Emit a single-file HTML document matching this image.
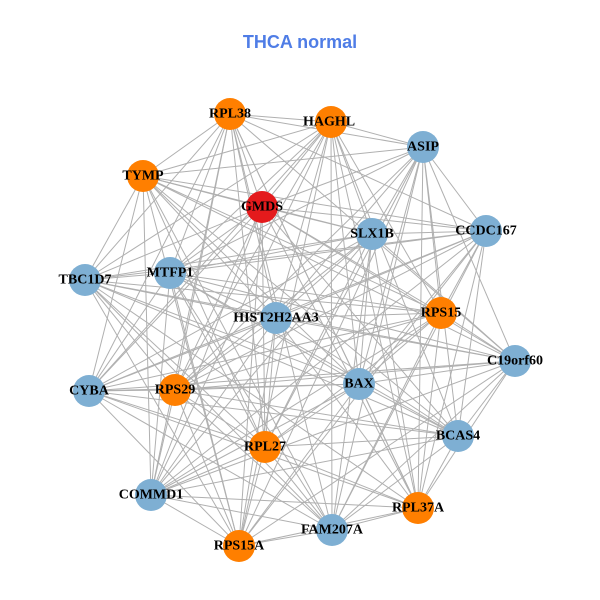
<!DOCTYPE html>
<html><head><meta charset="utf-8"><style>
html,body{margin:0;padding:0;background:#fff;width:600px;height:600px;overflow:hidden}
svg text.l{font-family:"Liberation Serif",serif;font-weight:bold;font-size:14px;fill:#000;text-anchor:middle;dominant-baseline:central}
</style></head><body>
<svg id="s" width="600" height="600" xmlns="http://www.w3.org/2000/svg">
<text x="300" y="48" text-anchor="middle" font-family="Liberation Sans,sans-serif" font-weight="bold" font-size="18" fill="#4f7de6">THCA normal</text>
<g id="e" stroke="#b0b0b0" stroke-width="1"></g>
<g id="n"></g>
<g>
<text class="l" x="230" y="114">RPL38</text>
<text class="l" x="329" y="122">HAGHL</text>
<text class="l" x="423" y="147">ASIP</text>
<text class="l" x="143" y="176">TYMP</text>
<text class="l" x="262" y="207">GMDS</text>
<text class="l" x="372" y="234">SLX1B</text>
<text class="l" x="486" y="231">CCDC167</text>
<text class="l" x="85" y="280">TBC1D7</text>
<text class="l" x="170" y="273">MTFP1</text>
<text class="l" x="276" y="318">HIST2H2AA3</text>
<text class="l" x="441" y="313">RPS15</text>
<text class="l" x="515" y="361">C19orf60</text>
<text class="l" x="89" y="391">CYBA</text>
<text class="l" x="175" y="390">RPS29</text>
<text class="l" x="359" y="384">BAX</text>
<text class="l" x="458" y="436">BCAS4</text>
<text class="l" x="265" y="447">RPL27</text>
<text class="l" x="151" y="495">COMMD1</text>
<text class="l" x="418" y="508">RPL37A</text>
<text class="l" x="332" y="530">FAM207A</text>
<text class="l" x="239" y="546">RPS15A</text>
</g>
</svg>
<script>
var N=[[230,114,'o'],[331,122,'o'],[423,147,'b'],[143,176,'o'],[262,207,'r'],[372,234,'b'],[486,231,'b'],[85,280,'b'],[170,273,'b'],[276,318,'b'],[441,313,'o'],[515,361,'b'],[89,391,'b'],[175,390,'o'],[359,384,'b'],[458,436,'b'],[265,447,'o'],[151,495,'b'],[418,508,'o'],[332,530,'b'],[239,546,'o']];
var C={o:'#ff7f00',b:'#7eafd3',r:'#e41a1c'};
var ns='http://www.w3.org/2000/svg',e=document.getElementById('e'),g=document.getElementById('n');
for(var i=0;i<N.length;i++)for(var j=i+1;j<N.length;j++){
 if((i*7+j*3)%5==0)continue;
 var l=document.createElementNS(ns,'line');
 l.setAttribute('x1',N[i][0]);l.setAttribute('y1',N[i][1]);l.setAttribute('x2',N[j][0]);l.setAttribute('y2',N[j][1]);e.appendChild(l);}
N.forEach(function(p){var c=document.createElementNS(ns,'circle');c.setAttribute('cx',p[0]);c.setAttribute('cy',p[1]);c.setAttribute('r',16);c.setAttribute('fill',C[p[2]]);g.appendChild(c);});
</script>
</body></html>
